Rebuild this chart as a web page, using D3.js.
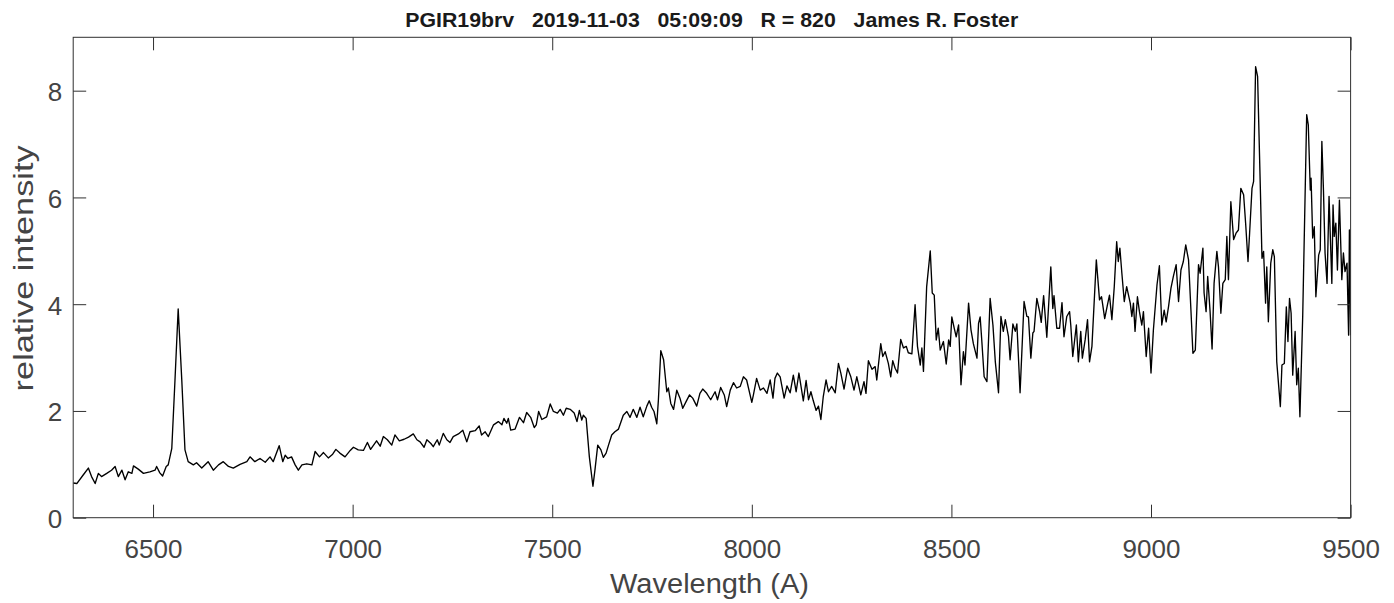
<!DOCTYPE html>
<html>
<head>
<meta charset="utf-8">
<script src="https://cdn.jsdelivr.net/npm/d3@7"></script>
<style>
  html, body { margin: 0; padding: 0; background: #fff; }
  svg { display: block; }
  text { font-family: "Liberation Sans", Arial, Helvetica, sans-serif; }
</style>
</head>
<body>
<svg id="chart" width="1394" height="603"></svg>
<script>
// ---------- data ----------
const titleText = "PGIR19brv   2019-11-03   05:09:09   R = 820   James R. Foster";
const xLabel = "Wavelength (A)";
const yLabel = "relative intensity";
const xTicks = [6500, 7000, 7500, 8000, 8500, 9000, 9500];
const yTicks = [0, 2, 4, 6, 8];

const wavelength = [
6300,6309,6325,6338,6346,6355,6363,6371,6384,6396,6405,6413,6422,6430,6438,6447,6451,6463,6476,6492,
6505,6509,6517,6524,6533,6538,6547,6555,6563,6572,6580,6588,6601,6609,6622,6638,6651,6664,6676,6689,
6701,6718,6735,6743,6755,6768,6781,6793,6801,6816,6825,6831,6838,6847,6856,6864,6873,6885,6898,6906,
6917,6927,6939,6950,6958,6968,6981,6994,7002,7014,7027,7037,7045,7060,7069,7077,7087,7098,7106,7117,
7129,7140,7152,7161,7169,7179,7186,7196,7202,7212,7217,7227,7236,7244,7252,7265,7276,7286,7294,7307,
7317,7323,7332,7340,7353,7365,7374,7379,7386,7390,7396,7407,7418,7428,7436,7446,7455,7460,7466,7474,
7486,7495,7503,7513,7520,7528,7535,7545,7555,7562,7568,7574,7578,7585,7593,7602,7607,7614,7622,7628,
7635,7641,7649,7657,7666,7678,7687,7695,7703,7712,7720,7728,7737,7743,7749,7755,7762,7766,7772,7779,
7787,7791,7797,7804,7812,7820,7827,7835,7844,7852,7862,7870,7877,7887,7897,7908,7914,7922,7931,7937,
7946,7954,7962,7971,7979,7987,8000,8004,8012,8021,8029,8038,8046,8053,8058,8064,8071,8081,8088,8096,
8104,8111,8118,8129,8136,8142,8148,8154,8161,8167,8173,8179,8186,8192,8200,8209,8217,8223,8231,8240,
8248,8256,8263,8273,8281,8286,8292,8301,8309,8313,8323,8328,8334,8342,8348,8353,8359,8365,8373,8380,
8387,8392,8401,8409,8415,8422,8426,8430,8438,8447,8452,8457,8462,8467,8472,8480,8487,8493,8497,8501,
8507,8512,8518,8524,8530,8534,8543,8549,8555,8564,8568,8572,8576,8582,8589,8597,8604,8610,8618,8624,
8630,8635,8643,8647,8654,8660,8664,8672,8682,8689,8693,8699,8704,8707,8714,8721,8725,8731,8739,8749,
8754,8757,8764,8771,8777,8782,8789,8796,8799,8804,8813,8818,8824,8828,8835,8841,8846,8852,8863,8871,
8876,8879,8884,8891,8896,8902,8908,8914,8918,8922,8927,8933,8939,8948,8952,8956,8960,8966,8971,8977,
8981,8988,8994,9000,9006,9015,9021,9027,9033,9038,9044,9050,9056,9063,9069,9075,9081,9087,9094,9100,
9105,9111,9119,9123,9130,9133,9138,9142,9148,9153,9158,9165,9169,9175,9180,9186,9190,9194,9200,9207,
9213,9219,9225,9232,9237,9243,9247,9253,9257,9262,9267,9274,9278,9282,9287,9290,9294,9300,9305,9309,
9315,9324,9328,9334,9339,9343,9347,9351,9355,9361,9365,9369,9373,9380,9390,9394,9399,9401,9405,9409,
9413,9420,9424,9428,9432,9436,9441,9446,9453,9456,9459,9463,9467,9472,9478,9482,9486,9491,9495,9497,
9500
];

const intensity = [
0.65,0.64,0.80,0.93,0.77,0.64,0.83,0.77,0.83,0.89,0.96,0.77,0.89,0.71,0.86,0.83,0.97,0.91,0.83,0.86,
0.89,0.96,0.84,0.78,0.96,0.99,1.30,2.58,3.91,2.58,1.27,1.05,0.99,1.03,0.93,1.05,0.89,0.99,1.05,0.96,
0.93,1.00,1.05,1.14,1.05,1.11,1.04,1.14,1.05,1.35,1.05,1.17,1.11,1.14,0.99,0.89,0.99,1.01,0.99,1.24,
1.14,1.22,1.12,1.19,1.28,1.21,1.14,1.26,1.32,1.27,1.26,1.41,1.28,1.44,1.34,1.52,1.46,1.36,1.55,1.44,
1.47,1.51,1.57,1.46,1.42,1.32,1.46,1.39,1.33,1.46,1.36,1.58,1.46,1.41,1.52,1.57,1.64,1.42,1.61,1.63,
1.72,1.55,1.61,1.52,1.74,1.80,1.74,1.86,1.77,1.86,1.64,1.66,1.88,1.78,1.97,1.88,1.69,1.74,1.99,1.84,
1.89,2.13,1.99,1.96,2.03,1.92,2.05,2.03,1.96,1.80,2.01,1.83,1.92,1.86,1.14,0.59,0.89,1.36,1.27,1.13,
1.21,1.36,1.55,1.61,1.66,1.92,1.99,1.88,2.03,1.88,2.07,1.89,2.09,2.19,2.07,1.99,1.76,2.21,3.13,2.96,
2.36,2.43,2.14,2.03,2.39,2.24,2.05,2.17,2.30,2.24,2.09,2.33,2.41,2.33,2.21,2.36,2.21,2.44,2.30,2.08,
2.39,2.53,2.43,2.46,2.64,2.58,2.16,2.30,2.61,2.39,2.43,2.33,2.58,2.24,2.61,2.71,2.64,2.24,2.47,2.34,
2.67,2.36,2.71,2.19,2.57,2.21,2.36,2.19,2.01,2.09,1.84,2.27,2.58,2.36,2.46,2.34,2.89,2.71,2.41,2.80,
2.64,2.39,2.64,2.30,2.55,2.33,2.94,2.78,2.83,2.58,3.26,3.02,3.11,2.89,2.64,2.94,2.80,2.71,3.34,3.18,
3.21,3.09,3.07,3.99,3.21,2.86,3.18,2.74,4.33,5.00,4.21,4.17,3.33,3.55,3.14,3.30,2.88,3.33,3.21,3.76,
3.55,3.39,3.61,2.49,3.11,2.86,4.02,3.52,3.26,2.99,3.64,3.76,3.33,2.64,2.55,4.11,3.61,2.92,2.34,3.77,
3.49,3.71,3.39,2.96,3.63,3.49,3.63,2.34,4.05,3.77,3.76,2.99,3.46,3.49,4.11,3.86,3.66,4.16,3.38,4.70,
3.92,4.16,3.55,3.55,4.03,3.39,3.77,3.86,3.61,3.02,3.61,2.92,3.49,2.99,3.33,3.71,2.92,3.21,4.83,4.08,
4.14,3.99,3.73,3.99,4.17,3.71,4.33,5.17,4.80,5.05,4.58,4.05,4.33,4.02,3.77,4.02,3.49,4.14,3.86,3.61,
3.86,3.02,3.55,2.71,3.52,4.36,4.72,3.61,3.89,3.67,3.96,4.30,4.52,4.74,4.05,4.64,4.80,5.11,4.83,3.89,
3.08,3.14,4.74,4.58,5.05,4.21,3.86,4.52,3.86,3.16,4.39,4.99,4.70,3.83,4.39,4.46,5.27,4.46,5.92,5.21,
5.33,5.39,6.17,6.05,5.52,4.80,5.33,6.17,6.30,8.45,8.27,6.14,4.86,4.99,4.02,4.70,3.67,4.77,5.02,4.89,
2.92,2.08,2.86,2.89,3.95,3.30,4.11,3.83,2.67,3.49,2.49,2.80,1.89,3.77,7.55,7.36,6.14,6.36,5.24,5.45,
4.14,4.92,5.02,7.05,6.14,4.96,4.39,6.02,4.39,5.86,5.27,5.52,4.64,5.95,4.46,4.96,4.61,4.77,3.42,5.39,
3.42
];

const spectrum = wavelength.map((w, i) => ({ w: w, v: intensity[i] }));

// ---------- layout ----------
const svg = d3.select("#chart");
const L = 73.2, R = 1350.6, T = 37.3, B = 517.7;
const axisColor = "#303030";
const labelColor = "#444444";

const x = d3.scaleLinear().domain([6300, 9500]).range([L, R]);
const y = d3.scaleLinear().domain([0, 9]).range([B, T]);

svg.append("rect").attr("x", 0).attr("y", 0).attr("width", 1394).attr("height", 603).attr("fill", "#fff");

svg.append("defs").append("clipPath").attr("id", "clip")
  .append("rect").attr("x", L).attr("y", T).attr("width", R - L).attr("height", B - T);

// data line
const line = d3.line().x(d => x(d.w)).y(d => y(d.v)).curve(d3.curveLinear);
svg.append("path")
  .datum(spectrum)
  .attr("clip-path", "url(#clip)")
  .attr("fill", "none")
  .attr("stroke", "#000")
  .attr("stroke-width", 1.35)
  .attr("stroke-linejoin", "round")
  .attr("d", line);

// axes (ticks inward, MATLAB style)
const tickLen = 13;
const gB = svg.append("g").attr("transform", `translate(0,${B})`)
  .call(d3.axisBottom(x).tickValues(xTicks).tickSizeInner(-tickLen).tickSizeOuter(0).tickFormat(d3.format("d")));
const gT = svg.append("g").attr("transform", `translate(0,${T})`)
  .call(d3.axisTop(x).tickValues(xTicks).tickSizeInner(-tickLen).tickSizeOuter(0).tickFormat(""));
const gL = svg.append("g").attr("transform", `translate(${L},0)`)
  .call(d3.axisLeft(y).tickValues(yTicks).tickSizeInner(-tickLen).tickSizeOuter(0).tickFormat(d3.format("d")));
const gR = svg.append("g").attr("transform", `translate(${R},0)`)
  .call(d3.axisRight(y).tickValues(yTicks).tickSizeInner(-tickLen).tickSizeOuter(0).tickFormat(""));

[gB, gT, gL, gR].forEach(g => {
  g.select(".domain").remove();
  g.selectAll(".tick line").attr("stroke", axisColor).attr("stroke-width", 1);
});

gB.selectAll(".tick text")
  .attr("y", 40.3).attr("dy", null)
  .attr("fill", labelColor)
  .style("font-size", "26px");
gL.selectAll(".tick text")
  .attr("x", -11).attr("dy", "10px")
  .attr("fill", labelColor)
  .style("font-size", "26px");

// box
svg.append("rect")
  .attr("x", L).attr("y", T).attr("width", R - L).attr("height", B - T)
  .attr("fill", "none").attr("stroke", axisColor).attr("stroke-width", 1);

// title
svg.append("text")
  .attr("x", 711.7).attr("y", 26.7)
  .attr("text-anchor", "middle")
  .attr("xml:space", "preserve")
  .style("white-space", "pre")
  .style("font-weight", "bold")
  .style("font-size", "21px")
  .attr("fill", "#1a1a1a")
  .attr("textLength", 613).attr("lengthAdjust", "spacingAndGlyphs")
  .text(titleText);

// x label
svg.append("text")
  .attr("x", 709.5).attr("y", 593)
  .attr("text-anchor", "middle")
  .style("font-size", "27px")
  .attr("fill", labelColor)
  .attr("textLength", 199).attr("lengthAdjust", "spacingAndGlyphs")
  .text(xLabel);

// y label
svg.append("text")
  .attr("transform", "translate(33,268.4) rotate(-90)")
  .attr("text-anchor", "middle")
  .style("font-size", "27px")
  .attr("fill", labelColor)
  .attr("textLength", 246).attr("lengthAdjust", "spacingAndGlyphs")
  .text(yLabel);
</script>
</body>
</html>
